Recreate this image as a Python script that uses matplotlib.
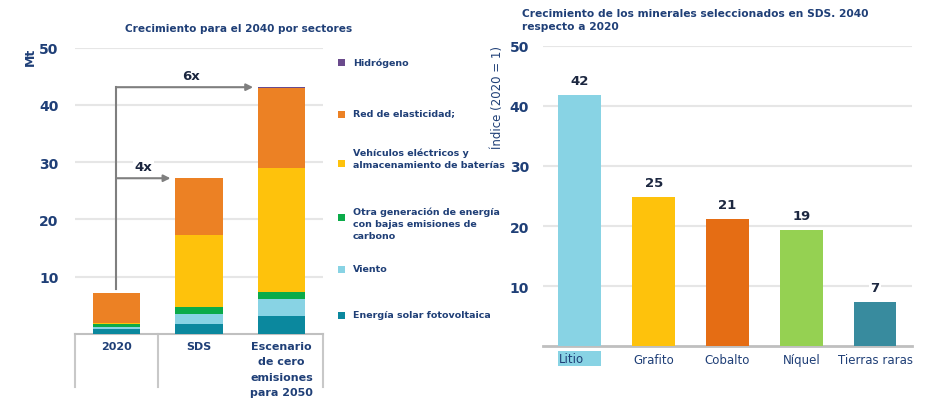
import matplotlib.pyplot as plt
import matplotlib.transforms as mtransforms
from matplotlib.patches import Rectangle

# ---- left chart data (Mt) ----
scenarios = ['2020', 'SDS', 'Escenario\nde cero\nemisiones\npara 2050']
sectors = ['Energía solar fotovoltaica', 'Viento',
           'Otra generación de energía\ncon bajas emisiones de\ncarbono',
           'Vehículos eléctricos y\nalmacenamiento de baterías',
           'Red de elasticidad;', 'Hidrógeno']
solar = [0.9, 1.7, 3.1]
wind = [0.4, 1.8, 3.0]
other_low = [0.4, 1.15, 1.3]
ev_storage = [0.3, 12.55, 21.6]
grid = [5.1, 10.0, 13.9]
hydrogen = [0.0, 0.0, 0.2]
sector_colors = ['#0b889e', '#88d3e4', '#0bab49', '#fec20c', '#ec8124', '#6a4a8c']
growth_labels = ['4x', '6x']

# ---- right chart data (index 2020 = 1) ----
minerals = ['Litio', 'Grafito', 'Cobalto', 'Níquel', 'Tierras raras']
growth = [41.8, 24.8, 21.2, 19.3, 7.4]
growth_text = ['42', '25', '21', '19', '7']
mineral_colors = ['#88d3e4', '#fec20c', '#e56d14', '#95d152', '#388b9e']

navy = '#1f3f77'
dark = '#1c2740'
gridc = '#e6e6e6'

fig = plt.figure(figsize=(9.35, 4.02), dpi=100)

# ================= left chart =================
ax1 = fig.add_axes([0.0802, 0.1667, 0.2652, 0.7122])
stack = [solar, wind, other_low, ev_storage, grid, hydrogen]
x = range(len(scenarios))
bottom = [0.0] * len(scenarios)
for vals, col, lab in zip(stack, sector_colors, sectors):
    ax1.bar(x, vals, width=0.57, bottom=bottom, color=col, label=lab, zorder=3)
    bottom = [b + v for b, v in zip(bottom, vals)]
totals = bottom

ax1.set_xlim(-0.5, 2.5)
ax1.set_ylim(0, 50)
ax1.set_yticks([10, 20, 30, 40, 50])
ax1.yaxis.grid(True, color=gridc, lw=1.5, zorder=0)
ax1.set_axisbelow(True)
for s in ['top', 'right', 'left']:
    ax1.spines[s].set_visible(False)
ax1.spines['bottom'].set_color('#c0c0c0')
ax1.spines['bottom'].set_linewidth(1.5)
ax1.tick_params(axis='y', length=0, pad=12, labelsize=10, labelcolor=navy)
for t in ax1.get_yticklabels():
    t.set_fontweight('bold')
ax1.set_xticks([])
# category labels and separators under the axis
for i, lab in enumerate(scenarios):
    ax1.text(i, -1.2, lab, ha='center', va='top', fontsize=8, fontweight='bold',
             color=navy, linespacing=1.68)
for xs in [-0.5, 0.5, 2.5]:
    ax1.plot([xs, xs], [0, -9.3], color='#c8c8c8', lw=1.5, clip_on=False)

ax1.text(-0.18, 0.97, 'Mt', rotation=90, ha='center', va='center', fontsize=9,
         fontweight='bold', color=navy, transform=ax1.transAxes)
ax1.set_title('Crecimiento para el 2040 por sectores', fontsize=7.6,
              fontweight='bold', color=navy, x=0.66, y=1.03)

# growth arrows from the 2020 bar
arr_col = '#7f7f7f'
ax1.plot([0, 0], [totals[0] + 0.8, totals[2]], color=arr_col, lw=1.5, zorder=4)
for tgt, lab in zip([1, 2], growth_labels):
    end = tgt - 0.345
    ax1.annotate('', xy=(end, totals[tgt]), xytext=(0, totals[tgt]),
                 arrowprops=dict(arrowstyle='-|>', color=arr_col, lw=1.5,
                                 mutation_scale=10, shrinkA=0, shrinkB=0), zorder=4)
    ax1.text(end / 2 + 0.04 * (tgt - 1) * 2, totals[tgt] + 2.1, lab, ha='center',
             va='center', fontsize=9.5, fontweight='bold', color=dark, zorder=5,
             bbox=dict(facecolor='white', edgecolor='none', pad=1))

# legend, drawn manually as squares + text in a column (pixel rows)
leg_square_y = [63, 115, 164, 218, 270, 316]
leg_text_y = [63, 114, 159, 224, 270, 316]
for lab, col, sy, ty in zip(sectors[::-1], sector_colors[::-1], leg_square_y, leg_text_y):
    fig.patches.append(Rectangle((338 / 935, 1 - (sy + 3.5) / 402), 7 / 935, 7 / 402,
                                 transform=fig.transFigure, facecolor=col,
                                 edgecolor='none'))
    fig.text(353 / 935, 1 - ty / 402, lab, ha='left', va='center', fontsize=6.8,
             fontweight='bold', color=navy, linespacing=1.45)

# ================= right chart =================
ax2 = fig.add_axes([0.5807, 0.1368, 0.3947, 0.7463])
ax2.bar(range(len(minerals)), growth, width=0.58, color=mineral_colors, zorder=3)
for i, (v, t) in enumerate(zip(growth, growth_text)):
    ax2.text(i, v + 1.3, t, ha='center', va='bottom', fontsize=9.5,
             fontweight='bold', color=dark, zorder=4,
             bbox=dict(facecolor='white', edgecolor='none', pad=1))
ax2.set_xlim(-0.5, 4.5)
ax2.set_ylim(0, 50)
ax2.set_yticks([10, 20, 30, 40, 50])
ax2.yaxis.grid(True, color=gridc, lw=1.5, zorder=0)
ax2.set_axisbelow(True)
for s in ['top', 'right', 'left']:
    ax2.spines[s].set_visible(False)
ax2.spines['bottom'].set_color('#bfbfbf')
ax2.spines['bottom'].set_linewidth(2)
ax2.tick_params(axis='y', length=0, pad=10, labelsize=10, labelcolor=navy)
for t in ax2.get_yticklabels():
    t.set_fontweight('bold')
ax2.set_xticks(range(len(minerals)))
ax2.set_xticklabels([''] + minerals[1:], fontsize=8.5, color=navy)
ax2.tick_params(axis='x', length=0, pad=5)
# "Litio" label with highlight box behind it
trans = mtransforms.blended_transform_factory(ax2.transData, ax2.transAxes)
ax2.add_patch(Rectangle((-0.29, -0.065), 0.58, 0.048, transform=trans,
                        facecolor=mineral_colors[0], edgecolor='none',
                        clip_on=False, zorder=1))
ax2.text(-0.29, -0.041, minerals[0], transform=trans, ha='left', va='center',
         fontsize=8.5, color=navy, zorder=5)
ax2.set_ylabel('Índice (2020 = 1)', fontsize=8.5, color=navy)
ax2.yaxis.set_label_coords(-0.105, 0.83)
ax2.set_title('Crecimiento de los minerales seleccionados en SDS. 2040\nrespecto a 2020',
              fontsize=7.7, fontweight='bold', color=navy, loc='left',
              x=-0.057, y=1.03, linespacing=1.35)

fig.savefig('out.png', dpi=100)
